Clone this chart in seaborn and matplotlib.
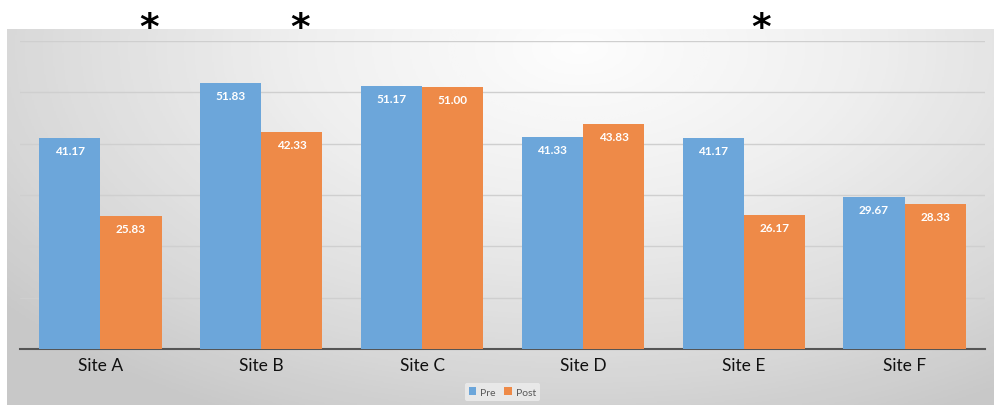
import numpy as np
import pandas as pd
import seaborn as sns
import matplotlib.pyplot as plt

# data
sites = ["Site A", "Site B", "Site C", "Site D", "Site E", "Site F"]
pre = [41.17, 51.83, 51.17, 41.33, 41.17, 29.67]
post = [25.83, 42.33, 51.00, 43.83, 26.17, 28.33]
periods = ["Pre", "Post"]
# sites flagged with an asterisk (position in category units)
star_pos = [0.30, 1.24, 4.11]

df = pd.DataFrame({
    "Site": sites * 2,
    "Score": pre + post,
    "Period": ["Pre"] * len(sites) + ["Post"] * len(sites),
})

sns.set_style("white")
plt.rcParams["font.family"] = ["Lato", "DejaVu Sans"]

fig = plt.figure(figsize=(9.94, 4.06), dpi=100)

# grey radial gradient panel behind the chart
bg = fig.add_axes([7 / 994, 0, 987 / 994, 376 / 406], zorder=-1)
yy, xx = np.mgrid[0:1:300j, 0:1:700j]
r = np.sqrt(((xx - 0.58) / 0.75) ** 2 + ((yy - 0.05) / 1.1) ** 2)
bg.imshow(np.clip(r, 0, 1), cmap="Greys", vmin=-0.05, vmax=3.2,
          aspect="auto", extent=[0, 1, 0, 1], origin="upper")
bg.axis("off")

ax = fig.add_axes([20 / 994, 56 / 406, 965 / 994, 308 / 406])
ax.set_facecolor("none")

blue, orange = "#6CA6DA", "#EE8A48"
sns.barplot(data=df, x="Site", y="Score", hue="Period", hue_order=periods,
            palette=[blue, orange], width=0.76, saturation=1, linewidth=0,
            ax=ax, zorder=3)

for cont in ax.containers:
    ax.bar_label(cont, fmt="%.2f", padding=-13, color="white",
                 fontsize=8.5, fontweight="bold")

ax.set_ylim(0, 60)
ax.set_xlim(-0.5, 5.5)
ax.set_yticks(range(0, 61, 10))
ax.yaxis.grid(True, color="#cfcfcf", linewidth=1, zorder=0)
ax.set_yticklabels([])
ax.tick_params(axis="y", length=0)
ax.tick_params(axis="x", length=0, labelsize=12.5, colors="#111111", pad=6)
ax.set_xlabel("")
ax.set_ylabel("")
for side in ["top", "left", "right"]:
    ax.spines[side].set_visible(False)
ax.spines["bottom"].set_color("#555555")
ax.spines["bottom"].set_linewidth(1.5)

for xp in star_pos:
    ax.text(xp, 0.985, "*", transform=ax.get_xaxis_transform(),
            ha="center", va="bottom", fontsize=27, fontweight="bold",
            family="DejaVu Sans", color="black")

leg = ax.legend(loc="center", bbox_to_anchor=(0.5, -0.14), ncol=2,
                fontsize=7.5, frameon=True, handlelength=0.7, handleheight=0.7,
                handletextpad=0.4, columnspacing=0.8, borderpad=0.4)
leg.get_frame().set_facecolor("#eeeeee")
leg.get_frame().set_edgecolor("none")
for t in leg.get_texts():
    t.set_color("#595959")

fig.savefig("out.png", dpi=100)
